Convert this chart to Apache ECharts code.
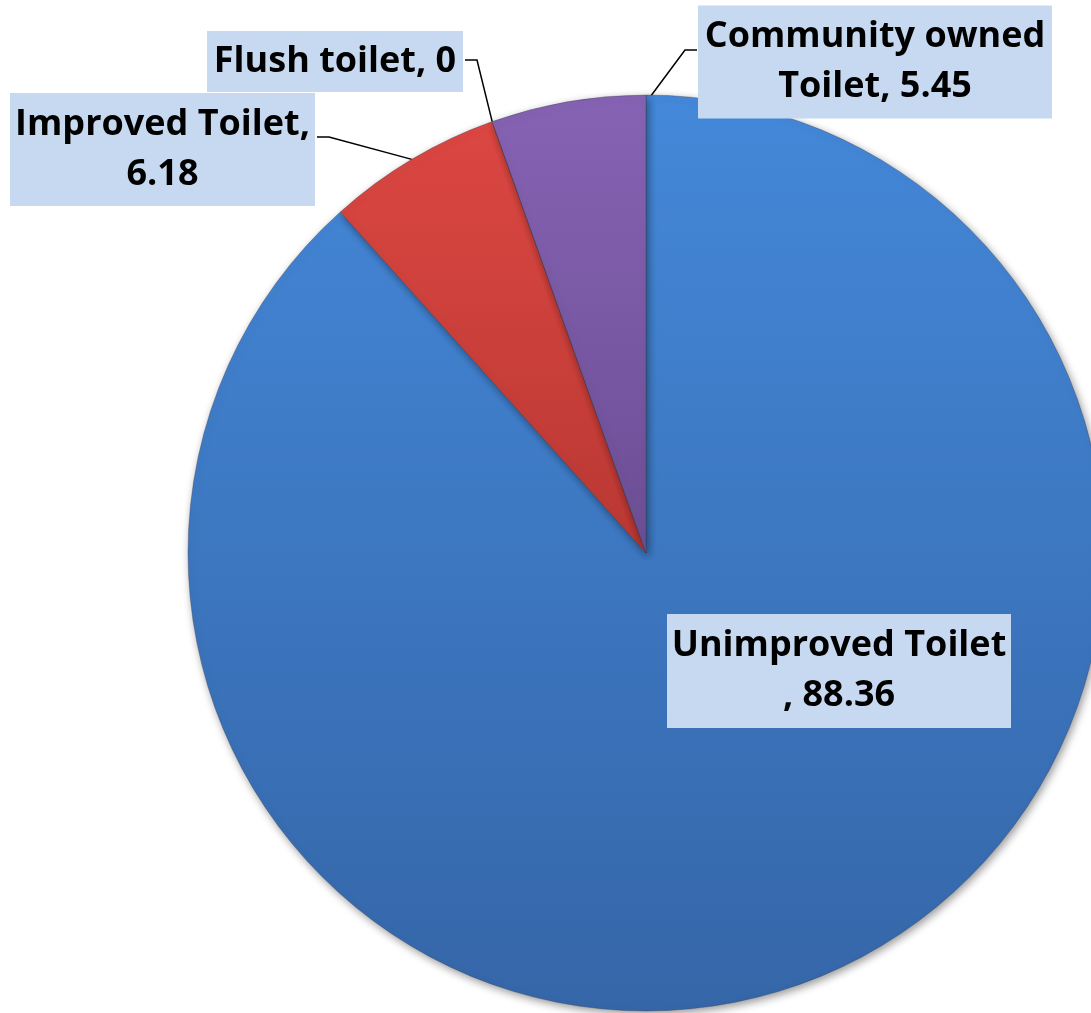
<!DOCTYPE html>
<html>
<head>
<meta charset="utf-8">
<script src="https://cdn.jsdelivr.net/npm/echarts@6/dist/echarts.min.js"></script>
<style>html,body{margin:0;padding:0;background:#fff;}#c{width:1091px;height:1013px;}</style>
</head>
<body>
<div id="c"></div>
<script>
const categories = ['Unimproved Toilet', 'Improved Toilet', 'Flush toilet', 'Community owned Toilet'];
const values = [88.36, 6.18, 0, 5.45];

const sliceColors = [
  ['#4488d9', '#3566a8'],
  ['#dc4742', '#ba3833'],
  ['#9bbb59', '#7f9a48'],
  ['#8663b4', '#6c4e94']
];

function labelText(i, n, v) {
  if (i === 0) return n + '\n, ' + v;
  if (i === 1) return n + ',\n' + v;
  if (i === 2) return n + ', ' + v;
  return n.replace(' Toilet', '\nToilet') + ', ' + v;
}

// label box layout (centre, size, padding) and leader elbow
const boxes = [
  {cx: 839, cy: 671, w: 344, pad: [7, 0, 7, 0]},
  {cx: 162.5, cy: 149.5, w: 305, pad: [10, 0, 3, 0], side: 'right', ly: 137},
  {cx: 335, cy: 61.5, w: 256, pad: [7, 0, 4, 0], side: 'right', ly: 60},
  {cx: 875, cy: 62, w: 354, pad: [8, 0, 5, 0], side: 'left', ly: 50}
];

const grad = (c) => new echarts.graphic.LinearGradient(0, 0, 0, 1, [{offset: 0, color: c[0]}, {offset: 1, color: c[1]}]);

const data = categories.map((n, i) => ({
  name: n,
  value: values[i],
  itemStyle: {color: grad(sliceColors[i])},
  label: {
    width: boxes[i].w,
    padding: boxes[i].pad,
    position: i === 0 ? 'inside' : 'outside'
  },
  labelLine: {show: i !== 0}
}));

const chart = echarts.init(document.getElementById('c'), null, {renderer: 'canvas'});
chart.setOption({
  animation: false,
  backgroundColor: '#ffffff',
  series: [{
    type: 'pie',
    center: [646, 553],
    radius: 458,
    startAngle: 90,
    clockwise: true,
    avoidLabelOverlap: false,
    data: data,
    itemStyle: {
      borderColor: 'rgba(60,60,80,0.35)',
      borderWidth: 1,
      shadowBlur: 8,
      shadowOffsetX: 2,
      shadowOffsetY: 3,
      shadowColor: 'rgba(0,0,0,0.4)'
    },
    label: {
      show: true,
      formatter: (p) => labelText(p.dataIndex, p.name, p.value),
      fontFamily: 'Open Sans',
      fontWeight: 'bold',
      fontSize: 36,
      lineHeight: 50,
      color: '#000',
      align: 'center',
      backgroundColor: '#c6d9f0'
    },
    labelLine: {
      show: true,
      lineStyle: {color: '#000', width: 1.5}
    },
    labelLayout: function (params) {
      const i = params.dataIndex;
      const b = boxes[i];
      const res = {x: b.cx, y: b.cy, align: 'center', verticalAlign: 'middle'};
      if (b.side) {
        let anchor;
        if (i === 3) {
          anchor = [params.rect.x + params.rect.width + 1, params.rect.y + 6];
        } else {
          anchor = params.labelLinePoints ? params.labelLinePoints[0] : [b.cx, b.cy];
        }
        const edge = b.side === 'right' ? b.cx + b.w / 2 : b.cx - b.w / 2;
        const elbow = b.side === 'right' ? edge + 14 : edge - 13;
        res.labelLinePoints = [anchor, [elbow, b.ly], [edge + (b.side === 'right' ? 2 : -1), b.ly]];
      }
      return res;
    }
  }]
});
</script>
</body>
</html>
